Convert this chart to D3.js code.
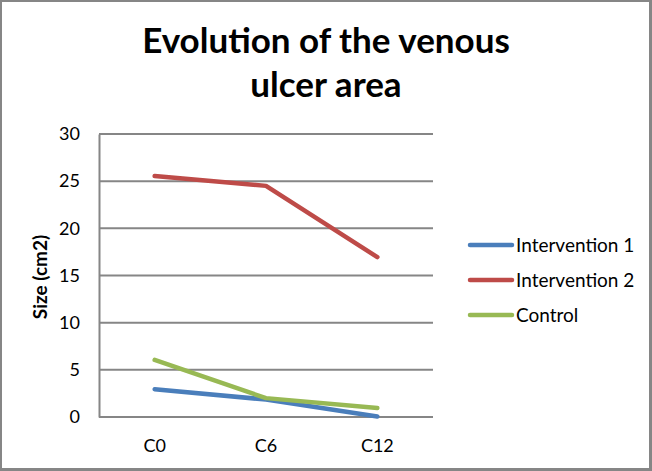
<!DOCTYPE html>
<html>
<head>
<meta charset="utf-8">
<script src="https://cdn.jsdelivr.net/npm/d3@7"></script>
<style>
  html, body { margin: 0; padding: 0; background: #fff; }
  svg { display: block; }
  text { font-family: Lato, "Open Sans", sans-serif; }
</style>
</head>
<body>
<svg id="chart" width="652" height="471"></svg>
<script>
const categories = ["C0", "C6", "C12"];
const intervention1 = [2.95, 1.85, 0.05];
const intervention2 = [25.55, 24.5, 16.95];
const control = [6.05, 2.0, 0.95];
const seriesNames = ["Intervention 1", "Intervention 2", "Control"];
const seriesColors = ["#4A7EBB", "#BE4B48", "#98B954"];
const yTicks = [0, 5, 10, 15, 20, 25, 30];
const titleLines = ["Evolution of the venous", "ulcer area"];
const yAxisTitle = "Size (cm2)";

const series = [intervention1, intervention2, control];

const svg = d3.select("#chart");
const W = 652, H = 471;

// frame
svg.append("rect").attr("x", 0).attr("y", 0).attr("width", W).attr("height", H).attr("fill", "#868686");
svg.append("rect").attr("x", 2).attr("y", 2).attr("width", W - 5).attr("height", H - 5).attr("fill", "#fff");

const plot = { left: 99, right: 433, top: 134, bottom: 417 };

const x = d3.scaleBand().domain(categories).range([plot.left, plot.right]);
const y = d3.scaleLinear().domain([0, 30]).range([plot.bottom, plot.top]);

// gridlines
svg.append("g").selectAll("line").data(yTicks).join("line")
  .attr("x1", plot.left).attr("x2", plot.right)
  .attr("y1", d => y(d)).attr("y2", d => y(d))
  .attr("stroke", "#868686").attr("stroke-width", 2);

// y axis
const yAxis = d3.axisLeft(y).tickValues(yTicks).tickSize(0).tickPadding(19);
const gy = svg.append("g").attr("transform", `translate(${plot.left},0)`).call(yAxis);
gy.select(".domain").attr("stroke", "#868686").attr("stroke-width", 2);
gy.selectAll("text").attr("font-size", 18).attr("fill", "#000").attr("font-family", "Lato, sans-serif");

// x axis labels
const xAxis = d3.axisBottom(x).tickSize(0).tickPadding(22);
const gx = svg.append("g").attr("transform", `translate(0,${plot.bottom})`).call(xAxis);
gx.select(".domain").remove();
gx.selectAll("text").attr("font-size", 18).attr("fill", "#000").attr("font-family", "Lato, sans-serif");

// lines
const line = d3.line()
  .x((d, i) => x(categories[i]) + x.bandwidth() / 2)
  .y(d => y(d));

svg.append("g").selectAll("path").data(series).join("path")
  .attr("d", d => line(d))
  .attr("fill", "none")
  .attr("stroke", (d, i) => seriesColors[i])
  .attr("stroke-width", 4.5)
  .attr("stroke-linecap", "round")
  .attr("stroke-linejoin", "round");

// title
const title = svg.append("text")
  .attr("text-anchor", "middle")
  .attr("font-weight", "bold")
  .attr("font-size", 35)
  .attr("fill", "#000");
title.selectAll("tspan").data(titleLines).join("tspan")
  .attr("x", 326)
  .attr("y", (d, i) => 53 + i * 44)
  .text(d => d);

// y axis title
svg.append("text")
  .attr("transform", "translate(47,277) rotate(-90)")
  .attr("text-anchor", "middle")
  .attr("font-weight", "bold")
  .attr("font-size", 19)
  .attr("fill", "#000")
  .text(yAxisTitle);

// legend
const legend = svg.append("g");
const rows = legend.selectAll("g").data(seriesNames).join("g")
  .attr("transform", (d, i) => `translate(0,${245 + i * 35})`);
rows.append("line")
  .attr("x1", 470).attr("x2", 512).attr("y1", 0).attr("y2", 0)
  .attr("stroke", (d, i) => seriesColors[i])
  .attr("stroke-width", 4.5)
  .attr("stroke-linecap", "round");
rows.append("text")
  .attr("x", 516).attr("y", 7)
  .attr("font-size", 19)
  .attr("fill", "#000")
  .text(d => d);
</script>
</body>
</html>
